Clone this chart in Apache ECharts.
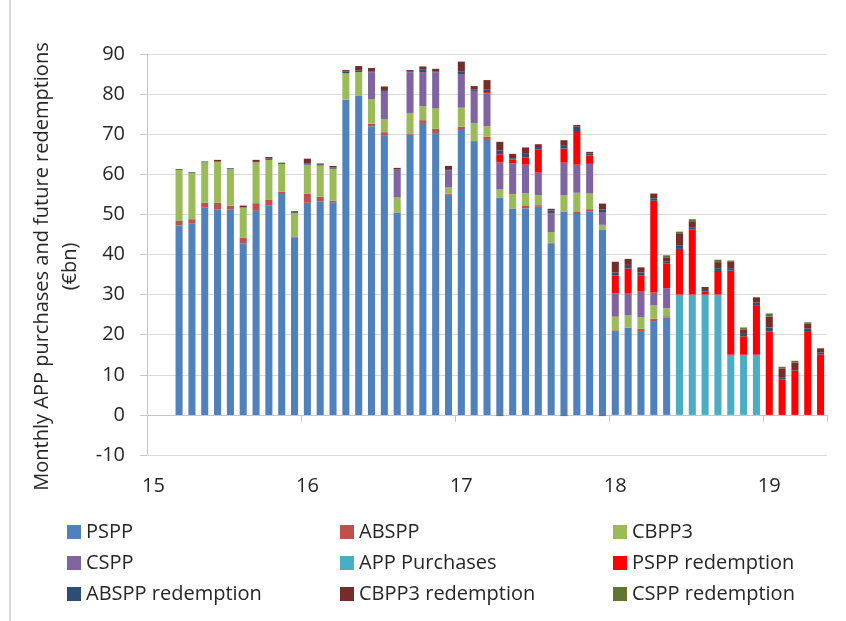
<!DOCTYPE html>
<html>
<head>
<meta charset="utf-8">
<script src="https://cdn.jsdelivr.net/npm/echarts@6/dist/echarts.min.js"></script>
<style>
  html, body { margin: 0; padding: 0; background: #fff; }
  #chart { width: 846px; height: 621px; }
</style>
</head>
<body>
<div id="chart"></div>
<script>
// months Jan 2015 .. May 2019
const months = [
  '2015-01', '2015-02', '2015-03', '2015-04', '2015-05', '2015-06', '2015-07', '2015-08', '2015-09', '2015-10', '2015-11', '2015-12',
  '2016-01', '2016-02', '2016-03', '2016-04', '2016-05', '2016-06', '2016-07', '2016-08', '2016-09', '2016-10', '2016-11', '2016-12',
  '2017-01', '2017-02', '2017-03', '2017-04', '2017-05', '2017-06', '2017-07', '2017-08', '2017-09', '2017-10', '2017-11', '2017-12',
  '2018-01', '2018-02', '2018-03', '2018-04', '2018-05', '2018-06', '2018-07', '2018-08', '2018-09', '2018-10', '2018-11', '2018-12',
  '2019-01', '2019-02', '2019-03', '2019-04', '2019-05'
]

const pspp = [
  null, null, 47.2, 47.7, 51.7, 51.3, 51.2, 42.8, 50.9, 52.2, 55.1, 44.3,
  52.9, 53.2, 53.0, 78.5, 79.6, 72.0, 69.6, 50.4, 69.9, 72.8, 70.1, 54.9,
  71.3, 68.1, 68.8, 54.2, 51.4, 51.5, 51.9, 42.8, 50.7, 50.1, 50.7, 46.1,
  20.7, 21.7, 20.7, 23.4, 24.3, null, null, null, null, null, null, null,
  null, null, null, null, null
]
const abspp = [
  null, null, 1.2, 1.1, 1.2, 1.6, 1.0, 1.4, 1.9, 1.4, 0.6, 0.2,
  2.3, 1.2, 0.4, 0.1, 0.1, 0.6, 0.9, 0.1, 0.3, 0.7, 1.3, 0.3,
  0.6, 0.2, 0.6, -0.3, 0.1, 0.6, 0.4, 0.1, -0.3, 0.5, 0.6, -0.3,
  0.4, 0.1, 0.8, 0.6, 0.3, null, null, null, null, null, null, null,
  null, null, null, null, null
]
const cbpp3 = [
  null, null, 12.7, 11.5, 10.1, 10.2, 9.1, 7.5, 10.2, 10.0, 6.9, 5.9,
  7.2, 7.8, 8.0, 6.6, 5.8, 6.1, 3.2, 3.7, 5.1, 3.5, 5.0, 1.5,
  4.7, 4.5, 2.6, 2.0, 3.6, 3.2, 2.5, 2.7, 4.1, 4.8, 3.9, 1.3,
  3.4, 3.1, 2.9, 3.3, 2.0, null, null, null, null, null, null, null,
  null, null, null, null, null
]
const cspp = [
  null, null, null, null, null, null, null, null, null, null, null, null,
  null, null, null, null, null, 6.7, 6.9, 6.7, 10.1, 8.5, 9.0, 4.3,
  8.4, 8.0, 8.2, 6.8, 7.6, 7.1, 5.6, 4.7, 8.1, 7.0, 7.4, 3.2,
  5.8, 5.5, 6.5, 3.2, 5.0, null, null, null, null, null, null, null,
  null, null, null, null, null
]
const appPurchases = [
  null, null, null, null, null, null, null, null, null, null, null, null,
  null, null, null, null, null, null, null, null, null, null, null, null,
  null, null, null, null, null, null, null, null, null, null, null, null,
  null, null, null, null, null, 30, 30, 30, 30, 15, 15, 15,
  null, null, null, null, null
]
const psppRed = [
  null, null, null, null, null, null, null, null, null, null, null, null,
  null, null, null, null, null, null, null, null, null, null, null, null,
  null, null, 0.3, 2.0, 1.0, 1.8, 5.8, null, 3.5, 8.4, 2.1, null,
  4.5, 6.1, 3.8, 22.9, 6.1, 11.4, 16.2, 0.8, 5.9, 21.0, 4.6, 12.2,
  20.8, 8.8, 10.7, 20.9, 15.1
]
const absppRed = [
  null, null, 0.2, 0.2, 0.2, 0.1, 0.2, 0.1, 0.1, 0.4, 0.3, 0.4,
  0.3, 0.3, 0.3, 0.4, 0.4, 0.2, 0.4, 0.3, 0.3, 0.7, 0.3, 0.3,
  0.7, 0.3, 0.6, 0.9, 0.3, 0.9, 0.6, 0.7, 0.7, 1.1, 0.5, 0.6,
  0.7, 0.9, 0.8, 0.6, 0.5, 0.9, 0.6, 0.6, 0.7, 0.6, 0.6, 0.8,
  1.0, 0.6, 0.4, 0.6, 0.5
]
const cbpp3Red = [
  null, null, null, null, null, 0.4, null, 0.4, 0.5, 0.3, null, null,
  1.2, 0.2, 0.4, 0.4, 1.1, 0.9, 0.9, 0.4, 0.3, 0.7, 0.6, 0.8,
  2.4, 0.9, 2.4, 2.2, 1.1, 1.6, 0.7, 0.4, 1.4, 0.4, 0.4, 1.5,
  2.7, 1.5, 1.3, 1.2, 1.1, 3.0, 1.5, 0.5, 1.5, 1.7, 1.1, 1.2,
  2.7, 2.2, 1.9, 1.3, 0.9
]
const csppRed = [
  null, null, null, null, null, null, null, null, null, null, null, null,
  null, null, null, null, null, null, null, null, null, null, null, null,
  null, null, null, null, null, null, null, null, null, null, null, null,
  null, null, null, null, 0.5, 0.4, 0.5, null, 0.6, 0.2, 0.5, 0.2,
  0.8, 0.4, 0.5, 0.3, 0.2
]

const yTicks = { min: -10, max: 90, step: 10 }

const FONT = 'Open Sans'
const TEXT = '#262626'
const GRID_COLOR = '#d9d9d9'
const AXIS_COLOR = '#c6c6c6'

const seriesDefs = [
  { name: 'PSPP', data: pspp, color: '#4f81bd' },
  { name: 'ABSPP', data: abspp, color: '#c0504d' },
  { name: 'CBPP3', data: cbpp3, color: '#9bbb59' },
  { name: 'CSPP', data: cspp, color: '#8064a2' },
  { name: 'APP Purchases', data: appPurchases, color: '#4bacc6' },
  { name: 'PSPP redemption', data: psppRed, color: '#ff0000' },
  { name: 'ABSPP redemption', data: absppRed, color: '#2c4d75' },
  { name: 'CBPP3 redemption', data: cbpp3Red, color: '#772c2a' },
  { name: 'CSPP redemption', data: csppRed, color: '#5f7530' }
]

const legendBase = {
  orient: 'vertical',
  top: 522,
  padding: 0,
  itemWidth: 14,
  itemHeight: 14,
  itemGap: 11,
  icon: 'rect',
  textStyle: { fontFamily: FONT, fontSize: 20, color: TEXT }
}

const chart = echarts.init(document.getElementById('chart'))

const option = {
  animation: false,
  backgroundColor: '#fff',
  graphic: [{
    type: 'line',
    shape: { x1: 10, y1: 0, x2: 10, y2: 621 },
    style: { stroke: GRID_COLOR, lineWidth: 2 }
  }],
  grid: { left: 147, right: 19, top: 54, bottom: 166 },
  legend: [
    Object.assign({}, legendBase, { left: 67, data: ['PSPP', 'CSPP', 'ABSPP redemption'] }),
    Object.assign({}, legendBase, { left: 340, data: ['ABSPP', 'APP Purchases', 'CBPP3 redemption'] }),
    Object.assign({}, legendBase, { left: 613, data: ['CBPP3', 'PSPP redemption', 'CSPP redemption'] })
  ],
  xAxis: [
    {
      // labels at the bottom of the plot
      type: 'category',
      data: months,
      position: 'bottom',
      axisLine: { show: false, onZero: false },
      axisTick: { show: false },
      axisLabel: {
        interval: 11,
        margin: 21,
        fontFamily: FONT,
        fontSize: 20,
        color: TEXT,
        formatter: v => v.slice(2, 4)
      }
    },
    {
      // zero line with year ticks
      type: 'category',
      data: months,
      position: 'bottom',
      axisLine: { show: true, onZero: true, lineStyle: { color: AXIS_COLOR, width: 1 } },
      axisTick: { show: true, interval: 11, length: 7, lineStyle: { color: AXIS_COLOR } },
      axisLabel: { show: false }
    }
  ],
  yAxis: {
    type: 'value',
    min: yTicks.min,
    max: yTicks.max,
    interval: yTicks.step,
    name: 'Monthly APP purchases and future redemptions\n(€bn)',
    nameLocation: 'middle',
    nameRotate: 90,
    nameGap: 61,
    nameTextStyle: {
      fontFamily: FONT,
      fontSize: 20,
      color: TEXT,
      lineHeight: 28,
      padding: [0, 24, 0, 0]
    },
    axisLine: { show: true, lineStyle: { color: AXIS_COLOR } },
    axisTick: { show: true, length: 7, lineStyle: { color: AXIS_COLOR } },
    axisLabel: { margin: 22, fontFamily: FONT, fontSize: 20, color: TEXT },
    splitLine: { lineStyle: { color: GRID_COLOR, width: 1 } }
  },
  series: seriesDefs.map(s => ({
    name: s.name,
    type: 'bar',
    stack: 'app',
    xAxisIndex: 0,
    barWidth: '55%',
    data: s.data,
    itemStyle: { color: s.color }
  }))
}

chart.setOption(option)
</script>
</body>
</html>
